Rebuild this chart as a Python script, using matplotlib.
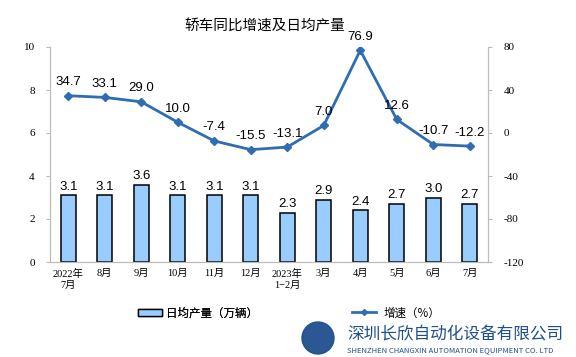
import matplotlib
matplotlib.use("Agg")
import matplotlib.pyplot as plt
from matplotlib.patches import Patch, Circle
from matplotlib.lines import Line2D

plt.rcParams['font.family'] = ['Noto Sans CJK SC', 'DejaVu Sans']

categories = ["2022年\n7月", "8月", "9月", "10月", "11月", "12月", "2023年\n1−2月",
              "3月", "4月", "5月", "6月", "7月"]
daily_output = [3.1, 3.1, 3.6, 3.1, 3.1, 3.1, 2.3, 2.9, 2.4, 2.7, 3.0, 2.7]
growth = [34.7, 33.1, 29.0, 10.0, -7.4, -15.5, -13.1, 7.0, 76.9, 12.6, -10.7, -12.2]
left_ticks = [0, 2, 4, 6, 8, 10]
right_ticks = [-120, -80, -40, 0, 40, 80]

W, H = 576, 357
fig = plt.figure(figsize=(5.76, 3.57), dpi=100)
ax = fig.add_axes([50 / W, 1 - 262 / H, 438 / W, 215 / H])
ax2 = ax.twinx()

x = list(range(len(categories)))
bar_color = "#99CCFF"
line_color = "#2E6DB4"
num_font = ["Liberation Sans", "DejaVu Sans"]

ax.bar(x, daily_output, width=0.42, color=bar_color, edgecolor="black", linewidth=1.1, zorder=2)
for xi, v in zip(x, daily_output):
    ax.text(xi, v + 0.12, f"{v:.1f}", ha="center", va="bottom", fontsize=9.5, family=num_font)
ax.set_ylim(0, 10)
ax.set_xlim(-0.5, len(categories) - 0.5)
ax.set_yticks(left_ticks)
ax.set_yticklabels([str(t) for t in left_ticks], family=["Liberation Serif"], fontsize=8)
ax.set_xticks(x)
ax.set_xticklabels(categories, fontsize=7.5, family=["Liberation Serif", "Noto Sans CJK SC"],
                   linespacing=1.3)
ax.tick_params(axis="x", length=0, pad=5)
ax.tick_params(axis="y", length=3, color="#BBBBBB", pad=8)

ax2.plot(x, growth, color=line_color, linewidth=2.0, marker="D", markersize=4, zorder=3)
for xi, v in zip(x, growth):
    ax2.text(xi, v + 7, f"{v:.1f}", ha="center", va="bottom", fontsize=9.5, family=num_font)
ax2.set_ylim(-120, 80)
ax2.set_yticks(right_ticks)
ax2.set_yticklabels([str(t) for t in right_ticks], family=["Liberation Serif"], fontsize=8)
ax2.tick_params(axis="y", length=3, color="#BBBBBB", pad=8)

for a in (ax, ax2):
    a.spines["top"].set_visible(False)
    for s in ("left", "right", "bottom"):
        a.spines[s].set_color("#BBBBBB")
        a.spines[s].set_linewidth(0.8)

fig.text(265 / W, 1 - 27 / H, "轿车同比增速及日均产量", ha="center", va="center", fontsize=10.5)

leg1 = fig.legend([Patch(facecolor=bar_color, edgecolor="black", linewidth=1.0)],
                  ["日均产量（万辆）"], loc="center left", bbox_to_anchor=(138 / W, 1 - 313 / H),
                  frameon=False, fontsize=8.3, handlelength=2.1, handleheight=0.55,
                  handletextpad=0.3, borderpad=0, borderaxespad=0)
leg2 = fig.legend([Line2D([0], [0], color=line_color, linewidth=2, marker="D", markersize=3)],
                  ["增速（%）"], loc="center left", bbox_to_anchor=(352 / W, 1 - 313 / H),
                  frameon=False, fontsize=8.3, handlelength=2.1,
                  handletextpad=0.6, borderpad=0, borderaxespad=0)
fig.add_artist(leg1)

# watermark
wm = "#1F4E8C"
fig.patches.append(Circle((318, H - 338), 16, transform=None, color=wm, alpha=0.95))
fig.text(347 / W, 1 - 335 / H, "深圳长欣自动化设备有限公司", fontsize=12, color=wm,
         ha="left", va="center")
fig.text(347 / W, 1 - 350 / H, "SHENZHEN CHANGXIN AUTOMATION EQUIPMENT CO. LTD", fontsize=5.5,
         color=wm, ha="left", va="center")

fig.savefig("out.png", dpi=100)
